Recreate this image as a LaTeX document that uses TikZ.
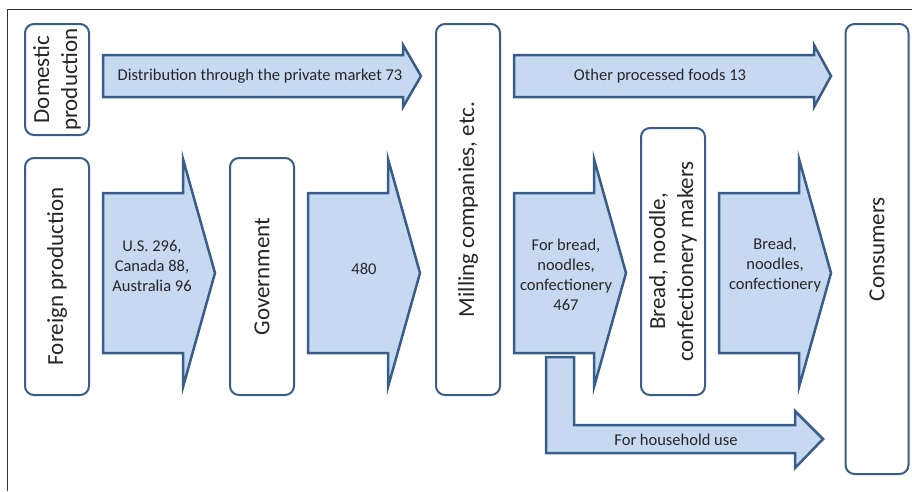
\documentclass[tikz,border=0pt]{standalone}
\usepackage{fontspec}
\setmainfont{Carlito}
\definecolor{flowline}{HTML}{385D8A}
\definecolor{flowfill}{HTML}{C6D9F1}
\newcommand{\bigflow}[1]{%
  \draw[flow] (#1,193) -- (#1+80,193) -- (#1+80,159) -- (#1+112,273)
    -- (#1+80,387) -- (#1+80,353) -- (#1,353) -- cycle;}
\begin{document}
\begin{tikzpicture}[x=1pt, y=-1pt,
    box/.style={draw=flowline, line width=2pt, rounded corners=9pt, fill=white,
      rotate=90, align=center, inner sep=0pt, text=black!85,
      font=\fontsize{23}{28}\selectfont},
    flow/.style={draw=flowline, line width=2.5pt, fill=flowfill, line join=miter},
    lbl/.style={align=center, text=black!85, inner sep=0pt,
      font=\fontsize{16.5}{20}\selectfont}]
  \useasboundingbox (0,0) rectangle (912,491);
  % frame
  \draw[black!80, line width=1pt] (7,491) -- (7,9.5) -- (912,9.5);
  % boxes
  \node[box, minimum width=111pt, minimum height=64pt] (dom) at (57,79.5) {Domestic\\production};
  \node[box, minimum width=237pt, minimum height=64pt] (foreign) at (57,276.5) {Foreign production};
  \node[box, minimum width=237pt, minimum height=64pt] (gov) at (262,276.5) {Government};
  \node[box, minimum width=371pt, minimum height=64pt] (mill) at (468,209.5) {Milling companies, etc.};
  \node[box, minimum width=267pt, minimum height=64pt] (maker) at (673,261.5) {Bread, noodle,\\confectionery makers};
  \node[box, minimum width=450pt, minimum height=63pt] (cons) at (877,249) {Consumers};
  % top flows
  \draw[flow] (103,55) -- (403,55) -- (403,45) -- (421,76) -- (403,107) -- (403,97) -- (103,97) -- cycle;
  \draw[flow] (514,55) -- (814,55) -- (814,45) -- (831,76) -- (814,107) -- (814,97) -- (514,97) -- cycle;
  % big flows
  \bigflow{103}
  \bigflow{308}
  \bigflow{514}
  \bigflow{719}
  % household use
  \draw[flow] (546,357) -- (574,357) -- (574,425) -- (795,425) -- (795,411) -- (823,439)
    -- (795,468) -- (795,453) -- (546,453) -- cycle;
  % labels
  \node[lbl] (private) at (260,76) {Distribution through the private market 73};
  \node[lbl] (other) at (660,76) {Other processed foods 13};
  \node[lbl] (imports) at (152,266) {U.S. 296,\\Canada 88,\\Australia 96};
  \node[lbl] (total) at (364,269) {480};
  \node[lbl] (forbread) at (566,275) {For bread,\\noodles,\\confectionery\\467};
  \node[lbl] (bread) at (775,265) {Bread,\\noodles,\\confectionery};
  \node[lbl] (household) at (676,440) {For household use};
\end{tikzpicture}
\end{document}
